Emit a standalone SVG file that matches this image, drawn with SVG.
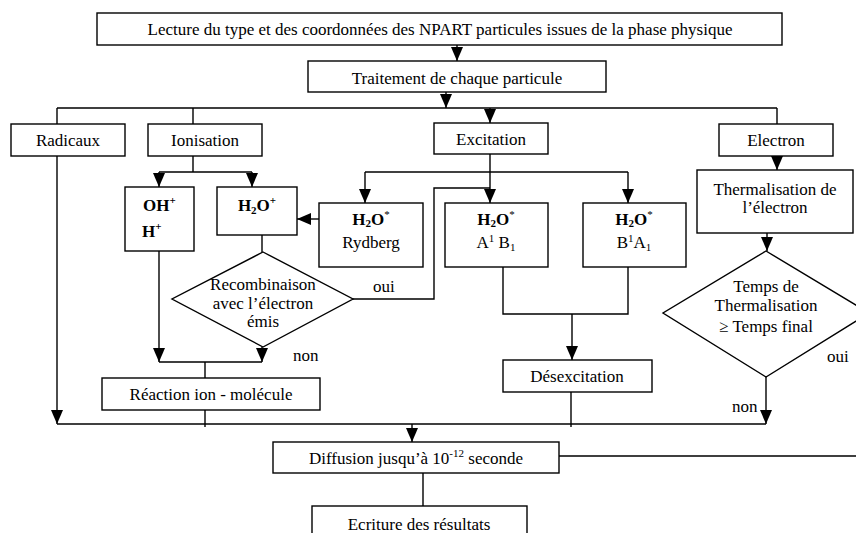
<svg xmlns="http://www.w3.org/2000/svg" width="856" height="533" viewBox="0 0 856 533">
<style>
.b{fill:#fff;stroke:#000;stroke-width:1.4}
.c{fill:none;stroke:#000;stroke-width:1.4}
.a{marker-end:url(#ah)}
text{font-family:"Liberation Serif","Times New Roman",serif;font-size:17px;fill:#000}
.m{text-anchor:middle}
.bd{font-weight:bold}
.sp{font-size:11px}
</style>
<defs>
<marker id="ah" viewBox="0 0 14 12" refX="14" refY="6" markerWidth="14" markerHeight="12" markerUnits="userSpaceOnUse" orient="auto">
<path d="M0,0 L14,6 L0,12 z" fill="#000"/>
</marker>
</defs>
<rect width="856" height="533" fill="#fff"/>
<g id="connectors">
<path class="c a" d="M457,45 V61"/>
<path class="c a" d="M446,92 V108"/>
<path class="c" d="M57,108 H777 M57,108 V124 M193,108 V124 M777,108 V124"/>
<path class="c a" d="M490,108 V123"/>
<path class="c a" d="M57,156 V424"/>
<path class="c" d="M193,156 V172 M159,172 H252"/>
<path class="c a" d="M159,172 V187"/>
<path class="c a" d="M252,172 V187"/>
<path class="c a" d="M159,251 V362"/>
<path class="c" d="M262,235 V252"/>
<path class="c a" d="M262,347 V362"/>
<path class="c" d="M159,362 H262 M205,362 V378 M205,410 V427"/>
<path class="c" d="M353,299 H434 V188 H490"/>
<path class="c a" d="M490,154 V203"/>
<path class="c" d="M365,172 H628"/>
<path class="c a" d="M365,172 V203"/>
<path class="c a" d="M628,172 V203"/>
<path class="c a" d="M319,219 H297"/>
<path class="c" d="M503,267 V314 H628 V267"/>
<path class="c a" d="M572,314 V360"/>
<path class="c" d="M571,392 V427"/>
<path class="c a" d="M777,156 V170"/>
<path class="c a" d="M767,233 V251"/>
<path class="c a" d="M766,377 V424"/>
<path class="c" d="M57,424 H766"/>
<path class="c a" d="M412,424 V442"/>
<path class="c" d="M559,456 H856 M423,473 V506"/>
</g>
<g id="lecture"><rect class="b" x="97" y="13" width="685" height="32"/><text class="m" x="440" y="35">Lecture du type et des coordonnées des NPART particules issues de la phase physique</text></g>
<g id="traitement"><rect class="b" x="308" y="61" width="298" height="31"/><text class="m" x="457" y="84">Traitement de chaque particule</text></g>
<g id="radicaux"><rect class="b" x="11" y="124" width="114" height="32"/><text class="m" x="68" y="146">Radicaux</text></g>
<g id="ionisation"><rect class="b" x="148" y="124" width="114" height="32"/><text class="m" x="205" y="146">Ionisation</text></g>
<g id="excitation"><rect class="b" x="434" y="123" width="114" height="31"/><text class="m" x="491" y="145">Excitation</text></g>
<g id="electron"><rect class="b" x="719" y="124" width="114" height="32"/><text class="m" x="776" y="146">Electron</text></g>
<g id="ohh"><rect class="b" x="125" y="187" width="69" height="64"/><text class="bd" x="143" y="211">OH<tspan class="sp" dy="-7">+</tspan></text><text class="bd" x="142" y="237">H<tspan class="sp" dy="-7">+</tspan></text></g>
<g id="h2op"><rect class="b" x="217" y="187" width="80" height="48"/><text class="bd m" x="257" y="211">H<tspan class="sp" dy="3">2</tspan><tspan dy="-3">O</tspan><tspan class="sp" dy="-7">+</tspan></text></g>
<g id="rydberg"><rect class="b" x="319" y="203" width="104" height="64"/><text class="bd m" x="371" y="225">H<tspan class="sp" dy="2">2</tspan><tspan dy="-2">O</tspan><tspan class="sp" font-weight="normal" dy="-7">*</tspan></text><text class="m" x="371" y="248">Rydberg</text></g>
<g id="a1b1"><rect class="b" x="445" y="203" width="103" height="64"/><text class="bd m" x="496" y="225">H<tspan class="sp" dy="2">2</tspan><tspan dy="-2">O</tspan><tspan class="sp" font-weight="normal" dy="-7">*</tspan></text><text class="m" x="496" y="248">A<tspan class="sp" dy="-6">1</tspan><tspan dy="6"> B</tspan><tspan class="sp" dy="3">1</tspan></text></g>
<g id="b1a1"><rect class="b" x="583" y="203" width="103" height="64"/><text class="bd m" x="634" y="225">H<tspan class="sp" dy="2">2</tspan><tspan dy="-2">O</tspan><tspan class="sp" font-weight="normal" dy="-7">*</tspan></text><text class="m" x="634" y="248">B<tspan class="sp" dy="-6">1</tspan><tspan dy="6">A</tspan><tspan class="sp" dy="3">1</tspan></text></g>
<g id="recombinaison"><polygon class="b" points="263,252 353,299 263,347 172,299"/><text class="m" x="263" y="290">Recombinaison</text><text class="m" x="263" y="309">avec l’électron</text><text class="m" x="263" y="327">émis</text></g>
<g id="thermalisation"><rect class="b" x="697" y="170" width="156" height="63"/><text class="m" x="775" y="195">Thermalisation de</text><text class="m" x="775" y="213">l’électron</text></g>
<g id="temps"><polygon class="b" points="766,251 869,313 766,377 663,313"/><text class="m" x="766" y="292">Temps de</text><text class="m" x="766" y="311">Thermalisation</text><text class="m" x="766" y="332">≥ Temps final</text></g>
<g id="reaction"><rect class="b" x="102" y="378" width="218" height="32"/><text class="m" x="211" y="400">Réaction ion - molécule</text></g>
<g id="desexcitation"><rect class="b" x="503" y="360" width="149" height="32"/><text class="m" x="577" y="382">Désexcitation</text></g>
<g id="diffusion"><rect class="b" x="273" y="442" width="286" height="31"/><text class="m" x="416" y="464">Diffusion jusqu’à 10<tspan class="sp" dy="-7">-12</tspan><tspan dy="7"> seconde</tspan></text></g>
<g id="ecriture"><rect class="b" x="312" y="506" width="215" height="40"/><text class="m" x="419" y="530">Ecriture des résultats</text></g>
<g id="labels"><text x="373" y="292">oui</text><text x="293" y="361">non</text><text x="827" y="362">oui</text><text x="732" y="412">non</text></g>
</svg>
